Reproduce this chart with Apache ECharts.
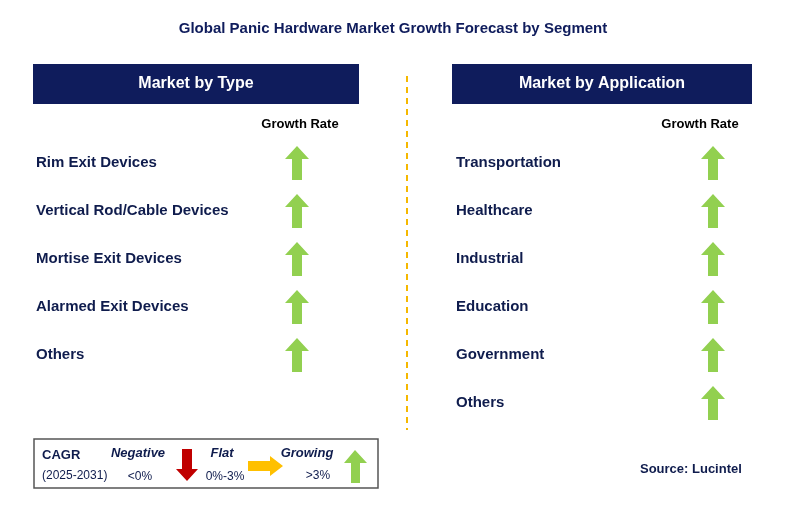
<!DOCTYPE html>
<html><head><meta charset="utf-8">
<script src="https://cdn.jsdelivr.net/npm/echarts@6/dist/echarts.min.js"></script>
<style>html,body{margin:0;padding:0;background:#fff}#main{width:786px;height:513px}</style>
</head><body><div id="main"></div>
<script>
var typeCategories = ['Rim Exit Devices', 'Vertical Rod/Cable Devices', 'Mortise Exit Devices', 'Alarmed Exit Devices', 'Others'];
var typeGrowth = ['up', 'up', 'up', 'up', 'up'];
var appCategories = ['Transportation', 'Healthcare', 'Industrial', 'Education', 'Government', 'Others'];
var appGrowth = ['up', 'up', 'up', 'up', 'up', 'up'];

var navy = '#0f1c5c';
var txt = '#0f1c4d';
var upArrow = 'path://M12,0 L24,13 L17,13 L17,34 L7,34 L7,13 L0,13 Z';
var font = 'Liberation Sans';

function arrowData(list) {
  return list.map(function (g, i) { return [0, i]; });
}
function poly(pts, x, y, color) {
  return { type: 'polygon', x: x, y: y, shape: { points: pts }, style: { fill: color } };
}

var chart = echarts.init(document.getElementById('main'));
chart.setOption({
  animation: false,
  textStyle: { fontFamily: font },
  grid: [
    { left: 297, width: 1, top: 139, height: 240 },
    { left: 713, width: 1, top: 139, height: 288 }
  ],
  xAxis: [
    { gridIndex: 0, type: 'value', min: 0, max: 0, show: false },
    { gridIndex: 1, type: 'value', min: 0, max: 0, show: false }
  ],
  yAxis: [
    { gridIndex: 0, type: 'category', inverse: true, data: typeCategories,
      axisLine: { show: false }, axisTick: { show: false }, splitLine: { show: false },
      axisLabel: { margin: 261, align: 'left', color: txt, fontSize: 15, fontWeight: 'bold', fontFamily: font } },
    { gridIndex: 1, type: 'category', inverse: true, data: appCategories,
      axisLine: { show: false }, axisTick: { show: false }, splitLine: { show: false },
      axisLabel: { margin: 257, align: 'left', color: txt, fontSize: 15, fontWeight: 'bold', fontFamily: font } }
  ],
  series: [
    { type: 'scatter', xAxisIndex: 0, yAxisIndex: 0, data: arrowData(typeGrowth),
      symbol: upArrow, symbolSize: [24, 34], itemStyle: { color: '#92d050', opacity: 1 } },
    { type: 'scatter', xAxisIndex: 1, yAxisIndex: 1, data: arrowData(appGrowth),
      symbol: upArrow, symbolSize: [24, 34], itemStyle: { color: '#92d050', opacity: 1 } }
  ],
  graphic: [
    { type: 'text', x: 393, y: 29, style: { text: 'Global Panic Hardware Market Growth Forecast by Segment', fill: navy, font: 'bold 15px ' + font, align: 'center', verticalAlign: 'middle' } },
    { type: 'rect', shape: { x: 33, y: 64, width: 326, height: 40 }, style: { fill: navy } },
    { type: 'text', x: 196, y: 84, style: { text: 'Market by Type', fill: '#fff', font: 'bold 16px ' + font, align: 'center', verticalAlign: 'middle' } },
    { type: 'rect', shape: { x: 452, y: 64, width: 300, height: 40 }, style: { fill: navy } },
    { type: 'text', x: 602, y: 84, style: { text: 'Market by Application', fill: '#fff', font: 'bold 16px ' + font, align: 'center', verticalAlign: 'middle' } },
    { type: 'text', x: 300, y: 124, style: { text: 'Growth Rate', fill: '#000', font: 'bold 13px ' + font, align: 'center', verticalAlign: 'middle' } },
    { type: 'text', x: 700, y: 124, style: { text: 'Growth Rate', fill: '#000', font: 'bold 13px ' + font, align: 'center', verticalAlign: 'middle' } },
    { type: 'line', shape: { x1: 407, y1: 76, x2: 407, y2: 430 }, style: { stroke: '#f5b800', lineWidth: 2, lineDash: [6, 5] } },
    { type: 'rect', shape: { x: 34, y: 439, width: 344, height: 49 }, style: { fill: '#fff', stroke: '#555', lineWidth: 1.5 } },
    { type: 'text', x: 42, y: 455, style: { text: 'CAGR', fill: txt, font: 'bold 13px ' + font, verticalAlign: 'middle' } },
    { type: 'text', x: 42, y: 476, style: { text: '(2025-2031)', fill: txt, font: '12px ' + font, verticalAlign: 'middle' } },
    { type: 'text', x: 138, y: 453, style: { text: 'Negative', fill: txt, font: 'italic bold 13px ' + font, align: 'center', verticalAlign: 'middle' } },
    { type: 'text', x: 140, y: 477, style: { text: '<0%', fill: txt, font: '12px ' + font, align: 'center', verticalAlign: 'middle' } },
    poly([[6,0],[16,0],[16,20],[22,20],[11,32],[0,20],[6,20]], 176, 449, '#c00000'),
    { type: 'text', x: 222, y: 453, style: { text: 'Flat', fill: txt, font: 'italic bold 13px ' + font, align: 'center', verticalAlign: 'middle' } },
    { type: 'text', x: 225, y: 477, style: { text: '0%-3%', fill: txt, font: '12px ' + font, align: 'center', verticalAlign: 'middle' } },
    poly([[0,5],[22,5],[22,0],[35,10],[22,20],[22,15],[0,15]], 248, 456, '#ffc000'),
    { type: 'text', x: 307, y: 453, style: { text: 'Growing', fill: txt, font: 'italic bold 13px ' + font, align: 'center', verticalAlign: 'middle' } },
    { type: 'text', x: 318, y: 476, style: { text: '>3%', fill: txt, font: '12px ' + font, align: 'center', verticalAlign: 'middle' } },
    poly([[11,0],[23,13],[16,13],[16,33],[7,33],[7,13],[0,13]], 344, 450, '#92d050'),
    { type: 'text', x: 640, y: 469, style: { text: 'Source: Lucintel', fill: txt, font: 'bold 13px ' + font, verticalAlign: 'middle' } }
  ]
});
</script></body></html>
